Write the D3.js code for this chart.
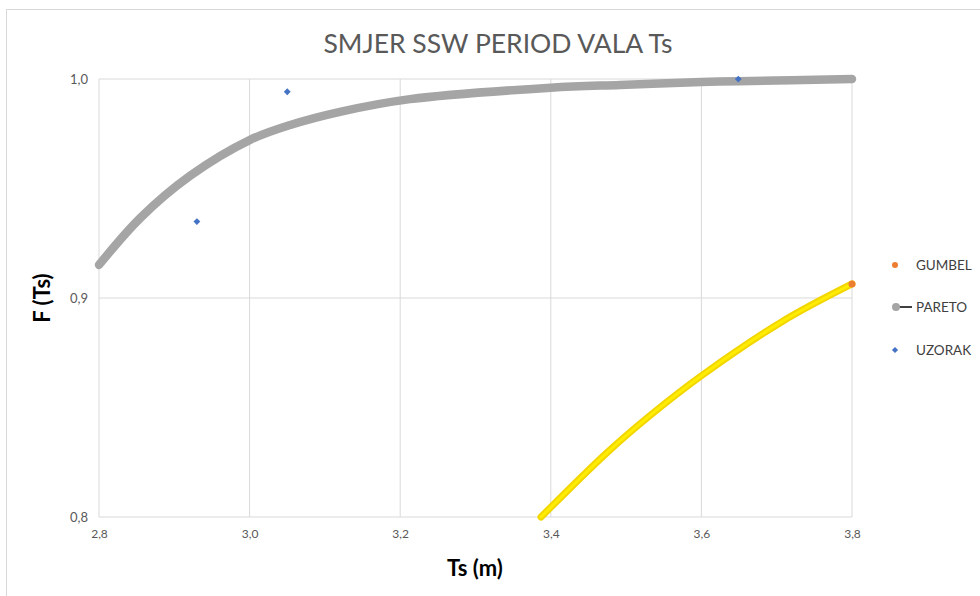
<!DOCTYPE html>
<html>
<head>
<meta charset="utf-8">
<script src="https://cdn.jsdelivr.net/npm/d3@7"></script>
<style>
  body { margin: 0; background: #fff; }
  text { font-family: Lato, "Open Sans", sans-serif; }
</style>
</head>
<body>
<div id="chart"></div>
<script>
// data
const paretoTs = [2.80, 2.855, 2.921, 3.00, 3.054, 3.12, 3.213, 3.40, 3.492, 3.60, 3.649, 3.80];
const paretoF  = [0.9151, 0.9366, 0.9558, 0.9721, 0.9790, 0.9850, 0.9908, 0.9960, 0.9973, 0.9986, 0.9990, 1.0];

const gumbelTs = [3.387, 3.474, 3.532, 3.60, 3.707, 3.80];
const gumbelF  = [0.800, 0.8292, 0.8464, 0.8645, 0.8892, 0.9064];

const uzorakTs = [2.93, 3.05, 3.649];
const uzorakF  = [0.9349, 0.9942, 0.99995];

const xTicks = [2.8, 3.0, 3.2, 3.4, 3.6, 3.8];
const yTicks = [0.8, 0.9, 1.0];
const legendNames = ["GUMBEL", "PARETO", "UZORAK"];

// 1: SET GLOBAL VARIABLES
const W = 980, H = 596;
const margin = { top: 79, right: 128, bottom: 79, left: 99 };
const width = W - margin.left - margin.right;
const height = H - margin.top - margin.bottom;

const svg = d3.select("#chart")
    .append("svg")
    .attr("width", W)
    .attr("height", H);

// chart border
svg.append("rect")
    .attr("x", 6.5).attr("y", 9.5)
    .attr("width", W).attr("height", H)
    .attr("fill", "none")
    .attr("stroke", "#d9d9d9");

const g = svg.append("g")
    .attr("transform", `translate(${margin.left},${margin.top})`);

// scales
const x = d3.scaleLinear().domain([2.8, 3.8]).range([0, width]);
const y = d3.scaleLinear().domain([0.8, 1.0]).range([height, 0]);
const fmt = d => d3.format(".1f")(d).replace(".", ",");

// gridlines
g.append("g")
    .selectAll("line")
    .data(xTicks)
    .join("line")
    .attr("x1", d => x(d)).attr("x2", d => x(d))
    .attr("y1", 0).attr("y2", height)
    .attr("stroke", "#d9d9d9");

g.append("g")
    .selectAll("line")
    .data(yTicks)
    .join("line")
    .attr("x1", 0).attr("x2", width)
    .attr("y1", d => y(d)).attr("y2", d => y(d))
    .attr("stroke", "#d9d9d9");

// axes (labels only)
const xAxis = g.append("g")
    .attr("transform", `translate(0,${height})`)
    .call(d3.axisBottom(x).tickValues(xTicks).tickFormat(fmt).tickSize(0).tickPadding(12));
xAxis.select(".domain").remove();
xAxis.selectAll("text").attr("fill", "#595959").style("font-size", "12px");

const yAxis = g.append("g")
    .call(d3.axisLeft(y).tickValues(yTicks).tickFormat(fmt).tickSize(0).tickPadding(11));
yAxis.select(".domain").remove();
yAxis.selectAll("text").attr("fill", "#595959").style("font-size", "13px");

const line = d3.line().curve(d3.curveCatmullRom.alpha(0.5)).x(d => x(d.t)).y(d => y(d.f));

// PARETO
const paretoData = paretoTs.map((t, i) => ({ t: t, f: paretoF[i] }));
g.append("path")
    .datum(paretoData)
    .attr("fill", "none")
    .attr("stroke", "#a5a5a5")
    .attr("stroke-width", 8.5)
    .attr("stroke-linecap", "round")
    .attr("stroke-linejoin", "round")
    .attr("d", line);

// GUMBEL
const gumbelData = gumbelTs.map((t, i) => ({ t: t, f: gumbelF[i] }));
g.append("path")
    .datum(gumbelData)
    .attr("fill", "none")
    .attr("stroke", "#f2d600")
    .attr("stroke-width", 7)
    .attr("stroke-linecap", "round")
    .attr("d", line);
g.append("path")
    .datum(gumbelData)
    .attr("fill", "none")
    .attr("stroke", "#ffec00")
    .attr("stroke-width", 3)
    .attr("stroke-linecap", "round")
    .attr("d", line);
const lastG = gumbelData[gumbelData.length - 1];
g.append("circle")
    .attr("cx", x(lastG.t)).attr("cy", y(lastG.f))
    .attr("r", 3.5)
    .attr("fill", "#ed7d31");

// UZORAK
const uzorakData = uzorakTs.map((t, i) => ({ t: t, f: uzorakF[i] }));
g.selectAll("path.uz")
    .data(uzorakData)
    .join("path")
    .attr("class", "uz")
    .attr("transform", d => `translate(${x(d.t)},${y(d.f)})`)
    .attr("d", d3.symbol().type(d3.symbolDiamond2).size(30))
    .attr("fill", "#4472c4");

// title + axis labels
svg.append("text")
    .attr("x", 498).attr("y", 53)
    .attr("text-anchor", "middle")
    .attr("fill", "#595959")
    .style("font-size", "26.5px")
    .text("SMJER SSW PERIOD VALA Ts");

svg.append("text")
    .attr("x", 475).attr("y", 576)
    .attr("text-anchor", "middle")
    .attr("fill", "#000")
    .style("font-size", "22px")
    .style("font-weight", "bold")
    .text("Ts (m)");

svg.append("text")
    .attr("transform", "translate(50,298) rotate(-90)")
    .attr("text-anchor", "middle")
    .attr("fill", "#000")
    .style("font-size", "22px")
    .style("font-weight", "bold")
    .text("F (Ts)");

// legend
const legend = svg.append("g");
const ly = [265, 307, 350];
legend.selectAll("text")
    .data(legendNames)
    .join("text")
    .attr("x", 916)
    .attr("y", (d, i) => ly[i] + 5)
    .attr("fill", "#404040")
    .style("font-size", "13.5px")
    .text(d => d);
legend.append("circle").attr("cx", 895).attr("cy", ly[0]).attr("r", 3).attr("fill", "#ed7d31");
legend.append("line").attr("x1", 893).attr("x2", 912).attr("y1", ly[1]).attr("y2", ly[1]).attr("stroke", "#000").attr("stroke-width", 1.5);
legend.append("circle").attr("cx", 896).attr("cy", ly[1]).attr("r", 4).attr("fill", "#a5a5a5");
legend.append("path")
    .attr("transform", `translate(895,${ly[2]})`)
    .attr("d", d3.symbol().type(d3.symbolDiamond2).size(24))
    .attr("fill", "#4472c4");
</script>
</body>
</html>
